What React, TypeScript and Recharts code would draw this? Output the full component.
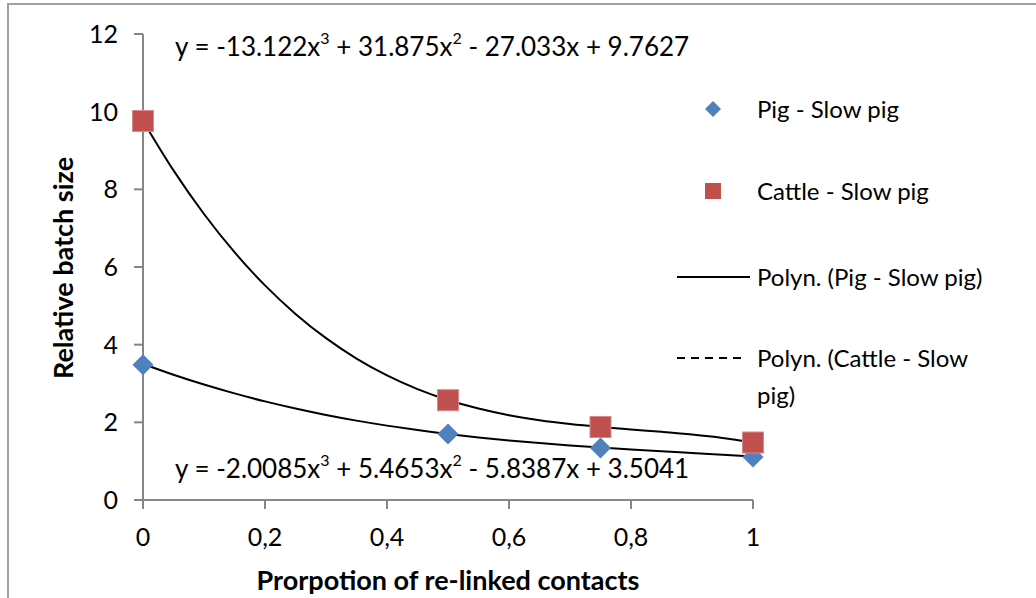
import React from 'react';
import { ComposedChart, Scatter, Line, XAxis, YAxis } from 'recharts';

const xValues = [0, 0.5, 0.75, 1];
const pigValues = [3.48, 1.7, 1.34, 1.11];
const cattleValues = [9.76, 2.57, 1.88, 1.48];

const trendX = [0, 0.05, 0.1, 0.15, 0.2, 0.25, 0.3, 0.35, 0.4, 0.45, 0.5, 0.55, 0.6, 0.65, 0.7, 0.75, 0.8, 0.85, 0.9, 0.95, 1];
const pigTrend = [3.504, 3.226, 2.973, 2.745, 2.539, 2.355, 2.19, 2.044, 1.915, 1.8, 1.7, 1.612, 1.535, 1.467, 1.406, 1.352, 1.303, 1.256, 1.212, 1.168, 1.122];
const cattleTrend = [9.763, 8.489, 7.365, 6.381, 5.526, 4.792, 4.167, 3.643, 3.21, 2.857, 2.575, 2.354, 2.184, 2.055, 1.958, 1.882, 1.818, 1.756, 1.686, 1.598, 1.483];

const xTicks = [0, 0.2, 0.4, 0.6, 0.8, 1];
const yTicks = [0, 2, 4, 6, 8, 10, 12];

const pigLabel = 'Pig - Slow pig';
const cattleLabel = 'Cattle - Slow pig';
const pigTrendLabel = 'Polyn. (Pig - Slow pig)';
const cattleTrendLabel1 = 'Polyn. (Cattle - Slow';
const cattleTrendLabel2 = 'pig)';

const pigData = xValues.map((x, i) => ({ x, y: pigValues[i] }));
const cattleData = xValues.map((x, i) => ({ x, y: cattleValues[i] }));
const pigTrendData = trendX.map((x, i) => ({ x, y: pigTrend[i] }));
const cattleTrendData = trendX.map((x, i) => ({ x, y: cattleTrend[i] }));

const PIG = '#4F81BD';
const CATTLE = '#C0504D';
const AXIS = '#868686';
const FONT = 'Lato, "Open Sans", sans-serif';

const Diamond = (props: any) => {
  const { cx, cy } = props;
  const r = 10.5;
  return <polygon points={`${cx},${cy - r} ${cx + r},${cy} ${cx},${cy + r} ${cx - r},${cy}`} fill={PIG} />;
};
const Square = (props: any) => {
  const { cx, cy } = props;
  const s = 21;
  return <rect x={cx - s / 2} y={cy - s / 2} width={s} height={s} fill={CATTLE} stroke="#d98a88" strokeWidth={1} />;
};

const fmt = (v: number) => String(v).replace('.', ',');

const supStyle: React.CSSProperties = { fontSize: 16, verticalAlign: 'top', lineHeight: '18px', position: 'relative', top: -2 };

export default function App() {
  const textStyle: React.CSSProperties = { position: 'absolute', fontFamily: FONT, fontSize: 24, color: '#000', whiteSpace: 'nowrap', lineHeight: '28px' };
  return (
    <div style={{ position: 'absolute', left: 0, top: 0, width: 1036, height: 598, background: '#fff', overflow: 'hidden' }}>
      <div style={{ position: 'absolute', left: 7, top: 3, width: 1036, height: 600, borderTop: '2px solid #a0a0a0', borderLeft: '2px solid #a0a0a0' }} />
      <div style={{ position: 'absolute', left: 0, top: 0 }}>
        <ComposedChart width={1036} height={598} margin={{ top: 34, right: 283, bottom: 70, left: 83 }}>
          <XAxis
            type="number"
            dataKey="x"
            domain={[0, 1]}
            ticks={xTicks}
            tickFormatter={fmt}
            stroke={AXIS}
            strokeWidth={2}
            tickSize={9}
            tickMargin={19}
            height={28}
            tick={{ fill: '#000', fontSize: 25, fontFamily: FONT }}
          />
          <YAxis
            type="number"
            dataKey="y"
            domain={[0, 12]}
            ticks={yTicks}
            stroke={AXIS}
            strokeWidth={2}
            tickSize={9}
            tickMargin={16}
            width={60}
            tick={{ fill: '#000', fontSize: 25, fontFamily: FONT }}
          />
          <Line data={cattleTrendData} dataKey="y" type="monotone" stroke="#000" strokeWidth={2} dot={false} isAnimationActive={false} />
          <Line data={pigTrendData} dataKey="y" type="monotone" stroke="#000" strokeWidth={2} dot={false} isAnimationActive={false} />
          <Scatter data={pigData} dataKey="y" shape={Diamond} isAnimationActive={false} />
          <Scatter data={cattleData} dataKey="y" shape={Square} isAnimationActive={false} />
        </ComposedChart>
      </div>

      <div style={{ ...textStyle, fontSize: 26, lineHeight: '30px', left: 175, top: 31 }}>
        y = -13.122x<sup style={supStyle}>3</sup> + 31.875x<sup style={supStyle}>2</sup> - 27.033x + 9.7627
      </div>
      <div style={{ ...textStyle, fontSize: 26, lineHeight: '30px', left: 175, top: 453 }}>
        y = -2.0085x<sup style={supStyle}>3</sup> + 5.4653x<sup style={supStyle}>2</sup> - 5.8387x + 3.5041
      </div>

      <div style={{ ...textStyle, fontSize: 27, lineHeight: '32px', left: 63, top: 268, fontWeight: 700, transform: 'translate(-50%, -50%) rotate(-90deg)' }}>
        Relative batch size
      </div>
      <div style={{ ...textStyle, fontSize: 27, lineHeight: '32px', left: 448, top: 580, fontWeight: 700, transform: 'translate(-50%, -50%)' }}>
        Prorpotion of re-linked contacts
      </div>

      <svg style={{ position: 'absolute', left: 0, top: 0 }} width={1036} height={598}>
        <polygon points="713,101 721,109 713,117 705,109" fill={PIG} />
        <rect x={705} y={183} width={16} height={16} fill={CATTLE} />
        <line x1={677} y1={277} x2={750} y2={277} stroke="#000" strokeWidth={2} />
        <line x1={677} y1={358} x2={745} y2={358} stroke="#000" strokeWidth={2} strokeDasharray="8 6" />
      </svg>
      <div style={{ ...textStyle, left: 757, top: 95 }}>{pigLabel}</div>
      <div style={{ ...textStyle, left: 757, top: 177 }}>{cattleLabel}</div>
      <div style={{ ...textStyle, left: 757, top: 263 }}>{pigTrendLabel}</div>
      <div style={{ ...textStyle, left: 757, top: 344 }}>{cattleTrendLabel1}</div>
      <div style={{ ...textStyle, left: 757, top: 381 }}>{cattleTrendLabel2}</div>
    </div>
  );
}
